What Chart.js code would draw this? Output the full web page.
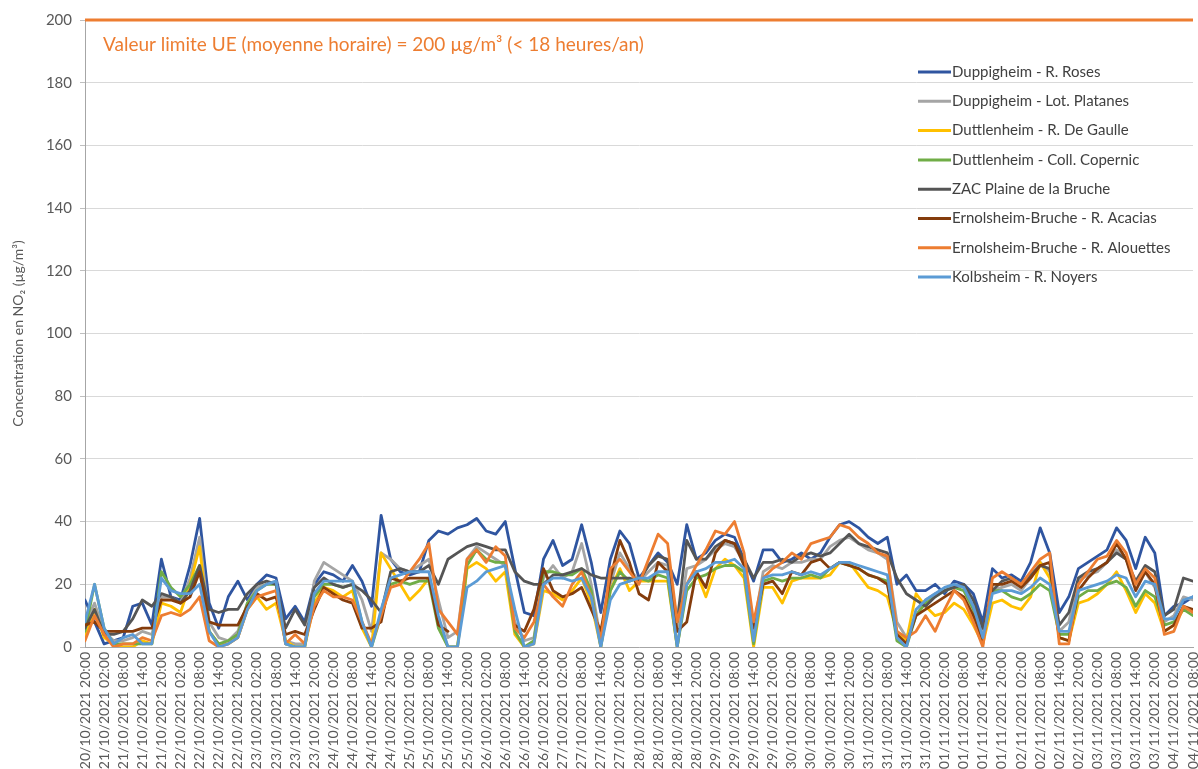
<!DOCTYPE html>
<html>
<head>
<meta charset="utf-8">
<script src="https://cdn.jsdelivr.net/npm/chart.js@4.4.1/dist/chart.umd.min.js"></script>
<style>
  html, body { margin: 0; padding: 0; background: #ffffff; }
  #wrap { width: 1198px; height: 769px; position: relative; }
</style>
</head>
<body>
<div id="wrap"><canvas id="no2Chart"></canvas></div>
<script>
// hourly NO2 measurements, read every 3 hours starting 20/10/2021 20:00
const stepHours = 3;
const lastHour = 348;

const tickLabels = [
  '20/10/2021 20:00',
  '21/10/2021 02:00', '21/10/2021 08:00', '21/10/2021 14:00', '21/10/2021 20:00',
  '22/10/2021 02:00', '22/10/2021 08:00', '22/10/2021 14:00', '22/10/2021 20:00',
  '23/10/2021 02:00', '23/10/2021 08:00', '23/10/2021 14:00', '23/10/2021 20:00',
  '24/10/2021 02:00', '24/10/2021 08:00', '24/10/2021 14:00', '24/10/2021 20:00',
  '25/10/2021 02:00', '25/10/2021 08:00', '25/10/2021 14:00', '25/10/2021 20:00',
  '26/10/2021 02:00', '26/10/2021 08:00', '26/10/2021 14:00', '26/10/2021 20:00',
  '27/10/2021 02:00', '27/10/2021 08:00', '27/10/2021 14:00', '27/10/2021 20:00',
  '28/10/2021 02:00', '28/10/2021 08:00', '28/10/2021 14:00', '28/10/2021 20:00',
  '29/10/2021 02:00', '29/10/2021 08:00', '29/10/2021 14:00', '29/10/2021 20:00',
  '30/10/2021 02:00', '30/10/2021 08:00', '30/10/2021 14:00', '30/10/2021 20:00',
  '31/10/2021 02:00', '31/10/2021 08:00', '31/10/2021 14:00', '31/10/2021 20:00',
  '01/11/2021 02:00', '01/11/2021 08:00', '01/11/2021 14:00', '01/11/2021 20:00',
  '02/11/2021 02:00', '02/11/2021 08:00', '02/11/2021 14:00', '02/11/2021 20:00',
  '03/11/2021 02:00', '03/11/2021 08:00', '03/11/2021 14:00', '03/11/2021 20:00',
  '04/11/2021 02:00', '04/11/2021 08:00'
];

const stationNames = [
  'Duppigheim - R. Roses',
  'Duppigheim - Lot. Platanes',
  'Duttlenheim - R. De Gaulle',
  'Duttlenheim - Coll. Copernic',
  'ZAC Plaine de la Bruche',
  'Ernolsheim-Bruche - R. Acacias',
  'Ernolsheim-Bruche - R. Alouettes',
  'Kolbsheim - R. Noyers'
];
const stationColors = ['#2F55A0', '#A5A5A5', '#FFC000', '#70AD47', '#555555', '#843C0C', '#ED7D31', '#5B9BD5'];

// one row = one day, 20:00 -> 17:00
const roses = [
  15, 8, 1, 2, 3, 13, 14, 7,
  28, 16, 15, 26, 41, 14, 6, 16,
  21, 15, 20, 23, 22, 9, 13, 8,
  20, 24, 23, 21, 26, 21, 13, 42,
  28, 24, 23, 24, 34, 37, 36, 38,
  39, 41, 37, 36, 40, 25, 11, 10,
  28, 34, 26, 28, 39, 27, 11, 28,
  37, 33, 22, 26, 30, 27, 20, 39,
  28, 30, 34, 36, 35, 28, 21, 31,
  31, 27, 28, 30, 28, 30, 35, 39,
  40, 38, 35, 33, 35, 20, 23, 18,
  18, 20, 17, 21, 20, 17, 8, 25,
  22, 23, 21, 27, 38, 30, 11, 16,
  25, 27, 29, 31, 38, 34, 25, 35,
  30, 10, 13, 14, 16
];
const platanes = [
  7, 14, 5, 2, 2, 3, 5, 4,
  16, 16, 14, 22, 35, 8, 3, 2,
  5, 14, 19, 20, 21, 2, 1, 1,
  21, 27, 25, 23, 21, 15, 5, 30,
  28, 25, 24, 26, 28, 15, 3, 5,
  28, 32, 30, 28, 26, 8, 2, 3,
  22, 26, 22, 24, 33, 20, 2, 20,
  30, 25, 21, 24, 27, 26, 5, 25,
  26, 28, 31, 33, 32, 27, 6, 24,
  26, 25, 27, 27, 28, 28, 32, 34,
  35, 33, 31, 30, 28, 8, 3, 10,
  15, 17, 18, 20, 19, 13, 4, 18,
  19, 20, 18, 22, 27, 24, 5, 8,
  21, 23, 24, 27, 31, 28, 20, 24,
  19, 8, 10, 16, 15
];
const deGaulle = [
  3, 12, 3, 1, 0, 0, 2, 1,
  14, 13, 11, 20, 32, 5, 1, 1,
  3, 12, 16, 12, 14, 2, 0, 0,
  14, 19, 18, 16, 18, 6, 0, 30,
  25, 20, 15, 18, 22, 8, 0, 0,
  25, 27, 25, 21, 24, 4, 0, 1,
  18, 17, 15, 18, 22, 14, 0, 18,
  25, 18, 21, 21, 21, 21, 0, 20,
  24, 16, 25, 28, 26, 22, 0, 19,
  19, 14, 21, 22, 22, 22, 23, 27,
  27, 23, 19, 18, 16, 5, 2, 17,
  13, 10, 11, 14, 12, 7, 1, 14,
  15, 13, 12, 16, 27, 22, 3, 2,
  14, 15, 17, 20, 24, 18, 11, 17,
  14, 5, 7, 12, 12
];
const copernic = [
  5, 20, 6, 1, 1, 1, 1, 1,
  24, 19, 16, 20, 26, 5, 1, 2,
  4, 14, 18, 20, 20, 1, 0, 0,
  16, 20, 20, 19, 20, 8, 0, 10,
  20, 21, 20, 21, 21, 6, 0, 0,
  26, 31, 28, 27, 27, 5, 0, 2,
  24, 24, 23, 23, 25, 18, 0, 18,
  24, 21, 22, 21, 23, 22, 0, 18,
  22, 23, 25, 26, 26, 24, 1, 21,
  22, 21, 22, 22, 23, 22, 25, 27,
  26, 25, 23, 22, 21, 2, 0, 10,
  14, 16, 18, 19, 18, 12, 2, 18,
  18, 16, 15, 17, 20, 18, 4, 4,
  16, 18, 18, 20, 21, 19, 13, 18,
  16, 7, 8, 12, 10
];
const zacBruche = [
  6, 12, 4, 4, 5, 9, 15, 13,
  17, 16, 14, 18, 26, 12, 11, 12,
  12, 17, 20, 21, 20, 6, 12, 7,
  19, 22, 20, 19, 20, 18, 15, 11,
  24, 25, 24, 24, 26, 20, 28, 30,
  32, 33, 32, 31, 31, 24, 21, 20,
  20, 23, 23, 24, 25, 23, 22, 22,
  22, 22, 21, 26, 29, 28, 8, 34,
  28, 28, 32, 34, 33, 28, 22, 27,
  27, 28, 27, 29, 30, 29, 30, 33,
  36, 33, 32, 31, 30, 22, 17, 15,
  13, 16, 18, 19, 20, 15, 6, 18,
  21, 22, 20, 23, 26, 25, 7, 11,
  22, 24, 25, 27, 30, 28, 21, 26,
  24, 10, 12, 22, 21
];
const acacias = [
  7, 8, 5, 5, 5, 5, 6, 6,
  15, 15, 14, 16, 24, 8, 7, 7,
  7, 13, 17, 15, 16, 4, 5, 4,
  12, 19, 17, 15, 14, 6, 6, 8,
  22, 21, 22, 22, 22, 7, 5, null,
  null, null, null, null, null, 7, 5, 12,
  25, 18, 16, 17, 19, 12, 5, 22,
  34, 27, 17, 15, 27, 24, 5, 8,
  24, 19, 30, 34, 33, 26, 6, 20,
  21, 17, 24, 23, 27, 28, 25, 27,
  26, 25, 23, 22, 20, 4, 1, 10,
  12, 14, 16, 18, 16, 10, 2, 20,
  20, 21, 19, 22, 26, 27, 3, 2,
  18, 22, 25, 27, 33, 28, 18, 24,
  20, 5, 7, 13, 12
];
const alouettes = [
  2, 10, 4, 0, 1, 1, 3, 2,
  10, 11, 10, 12, 16, 2, 0, 1,
  3, 12, 16, 17, 18, 1, 4, 1,
  13, 18, 16, 16, 15, 8, 1, 10,
  19, 20, 24, 28, 33, 12, 8, 4,
  28, 31, 27, 32, 29, 6, 3, 8,
  20, 16, 13, 20, 24, 16, 2, 25,
  28, 24, 20, 28, 36, 33, 8, 20,
  26, 31, 37, 36, 40, 30, 8, 22,
  25, 27, 30, 28, 33, 34, 35, 39,
  38, 35, 33, 30, 29, 5, 3, 5,
  10, 5, 12, 18, 15, 8, 0, 22,
  24, 22, 20, 24, 28, 30, 1, 1,
  20, 24, 28, 29, 34, 30, 20, 25,
  22, 4, 5, 13, 11
];
const noyers = [
  8, 20, 6, 1, 3, 4, 1, 1,
  22, 18, 17, 17, 20, 5, 0, 1,
  3, 12, 18, 20, 21, 1, 0, 0,
  17, 21, 21, 21, 21, 8, 0, 12,
  22, 23, 24, 24, 24, 10, 0, 0,
  19, 21, 24, 25, 26, 12, 0, 1,
  20, 22, 22, 21, 22, 16, 0, 15,
  20, 21, 22, 22, 24, 24, 0, 20,
  24, 25, 27, 27, 28, 25, 2, 22,
  23, 23, 24, 23, 24, 23, 25, 27,
  27, 26, 25, 24, 23, 3, 0, 12,
  15, 17, 19, 20, 19, 13, 3, 17,
  18, 18, 17, 19, 22, 20, 5, 5,
  18, 19, 20, 21, 23, 22, 16, 21,
  20, 9, 9, 15, 16
];

const limitValue = 200;
const limitText = 'Valeur limite UE (moyenne horaire) = 200 µg/m³ (< 18 heures/an)';

const allSeries = [roses, platanes, deGaulle, copernic, zacBruche, acacias, alouettes, noyers];

const toPoints = vals => vals.map((v, i) => ({ x: i * stepHours, y: v }));

const datasets = allSeries.map((vals, i) => ({
  label: stationNames[i],
  data: toPoints(vals),
  borderColor: stationColors[i],
  backgroundColor: stationColors[i],
  borderWidth: 2.8,
  pointRadius: 0,
  tension: 0,
  spanGaps: false,
  borderJoinStyle: 'round',
  borderCapStyle: 'round',
  order: allSeries.length - i  // last station drawn on top, like Excel
}));

// orange limit line + caption
const limitLine = {
  id: 'limitLine',
  afterDatasetsDraw(chart) {
    const { ctx, chartArea, scales } = chart;
    const y = scales.y.getPixelForValue(limitValue);
    ctx.save();
    ctx.strokeStyle = '#ED7D31';
    ctx.lineWidth = 3;
    ctx.beginPath();
    ctx.moveTo(chartArea.left, y);
    ctx.lineTo(chartArea.right, y);
    ctx.stroke();
    ctx.fillStyle = '#ED7D31';
    ctx.font = '19px Lato';
    ctx.textBaseline = 'middle';
    ctx.fillText(limitText, chartArea.left + 18, y + 25);
    ctx.restore();
  }
};

// legend sits inside the plot, top right
const legendBox = {
  id: 'legendBox',
  afterDraw(chart) {
    const { ctx, chartArea } = chart;
    const x0 = chartArea.right - 275;
    const y0 = chartArea.top + 52;
    ctx.save();
    ctx.font = '15px Lato';
    ctx.textBaseline = 'middle';
    stationNames.forEach((name, i) => {
      const y = y0 + i * 29.3;
      ctx.strokeStyle = stationColors[i];
      ctx.lineWidth = 3;
      ctx.beginPath();
      ctx.moveTo(x0, y);
      ctx.lineTo(x0 + 33, y);
      ctx.stroke();
      ctx.fillStyle = '#404040';
      ctx.fillText(name, x0 + 34, y);
    });
    ctx.restore();
  }
};

const ctx = document.getElementById('no2Chart').getContext('2d');
const chart = new Chart(ctx, {
  type: 'line',
  data: { datasets },
  plugins: [limitLine, legendBox],
  options: {
    responsive: true,
    maintainAspectRatio: false,
    animation: false,
    layout: { padding: { top: 20, right: 5, left: 0, bottom: 0 } },
    plugins: {
      legend: { display: false },
      tooltip: { enabled: false }
    },
    scales: {
      x: {
        type: 'linear',
        min: 0,
        max: lastHour,
        afterFit: scale => {
          scale.height = 122;
          scale.paddingLeft = 0;
          scale.paddingRight = 0;
        },
        grid: { drawOnChartArea: false, drawTicks: false },
        border: { color: '#A6A6A6', width: 1 },
        ticks: {
          stepSize: 6,
          autoSkip: false,
          maxRotation: 90,
          minRotation: 90,
          padding: 5,
          color: '#595959',
          font: { family: 'Lato', size: 14 },
          callback: v => tickLabels[v / 6]
        }
      },
      y: {
        min: 0,
        max: 200,
        afterFit: scale => { scale.width = 85; },
        grid: { color: '#D9D9D9', tickColor: '#BFBFBF', tickLength: 5 },
        border: { color: '#A6A6A6', width: 1 },
        ticks: {
          stepSize: 20,
          padding: 8,
          color: '#595959',
          font: { family: 'Lato', size: 15 }
        },
        title: {
          display: true,
          text: 'Concentration en NO₂ (µg/m³)',
          color: '#595959',
          font: { family: 'Lato', size: 14 },
          padding: { top: 10, bottom: 0 }
        }
      }
    }
  }
});
</script>
</body>
</html>
